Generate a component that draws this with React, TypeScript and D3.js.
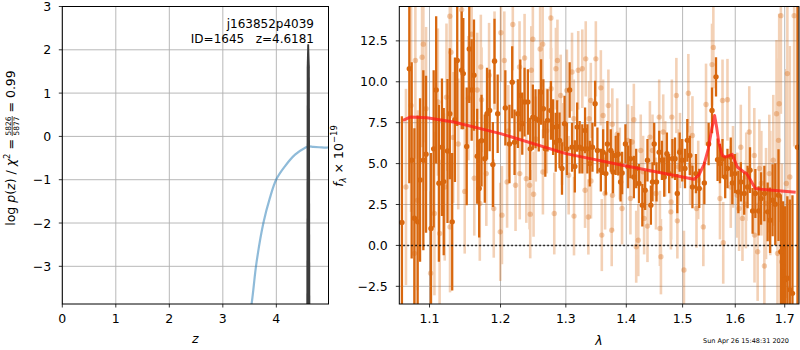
import React from 'react';
import * as d3 from 'd3';

// ---------- left panel: p(z) ----------
const pzZ = [3.40, 3.54, 3.63, 3.76, 3.88, 4.0, 4.16, 4.35, 4.54, 4.60, 4.69, 4.80, 4.94, 4.975];
const pzLog = [-5.0, -3.85, -2.91, -1.99, -1.42, -0.99, -0.69, -0.42, -0.26, -0.23, -0.24, -0.25, -0.26, -0.25];
const peakZ = [4.560, 4.568, 4.578, 4.612, 4.626, 4.636];
const peakLog = [-4.5, 1.6, 2.13, 2.13, 1.6, -4.5];
const xTicksL = [0, 1, 2, 3, 4];
const yTicksL = [-3, -2, -1, 0, 1, 2, 3];

// ---------- right panel: spectrum ----------
const xTicksR = [1.1, 1.2, 1.3, 1.4, 1.5, 1.6, 1.7];
const yTicksR = [-2.5, 0, 2.5, 5, 7.5, 10, 12.5];

const darkWave = [1.0634, 1.0731, 1.0762, 1.0798, 1.0841, 1.0873, 1.0917, 1.0953, 1.102, 1.1056, 1.109, 1.1127, 1.1169, 1.1193, 1.1245, 1.1277, 1.131, 1.1348, 1.138, 1.1442, 1.1465, 1.1513, 1.1549, 1.1583, 1.1616, 1.1662, 1.169, 1.1724, 1.1771, 1.1803, 1.1841, 1.1888, 1.1912, 1.1958, 1.2071, 1.2132, 1.2173, 1.2208, 1.2258, 1.2294, 1.2324, 1.2359, 1.2409, 1.2445, 1.2485, 1.2526, 1.2576, 1.2612, 1.2647, 1.2677, 1.2712, 1.2764, 1.2799, 1.284, 1.2864, 1.29, 1.2939, 1.298, 1.3017, 1.3061, 1.3099, 1.3144, 1.3182, 1.3222, 1.3265, 1.331, 1.3348, 1.3387, 1.3431, 1.3475, 1.3513, 1.357, 1.3608, 1.3653, 1.3679, 1.3736, 1.3774, 1.3819, 1.3862, 1.3902, 1.3929, 1.3985, 1.4029, 1.4071, 1.413, 1.4171, 1.4219, 1.4278, 1.4327, 1.4368, 1.4428, 1.4457, 1.4487, 1.4528, 1.4576, 1.4625, 1.4666, 1.4714, 1.4755, 1.4814, 1.4862, 1.4903, 1.4946, 1.4993, 1.5044, 1.5087, 1.5133, 1.5182, 1.5247, 1.5309, 1.5405, 1.5486, 1.5551, 1.5627, 1.5657, 1.5703, 1.5752, 1.5804, 1.5848, 1.5912, 1.5943, 1.5994, 1.6061, 1.611, 1.6176, 1.6243, 1.6292, 1.6344, 1.6399, 1.6466, 1.6514, 1.6581, 1.6648, 1.6697, 1.6749, 1.6804, 1.6871, 1.6919, 1.6966, 1.7006, 1.7055, 1.7106, 1.7162, 1.7268];
const darkFlux = [1.4, 10.8, 5.2, 1.66, 1.44, 4.0, 5.2, 5.57, 1.04, 5.9, 9.5, 3.8, 6.0, 3.9, 5.77, 8.05, 1.44, 7.68, 11.3, 10.7, 10.5, 6.05, 12.0, 9.5, 10.4, 5.45, 3.48, 6.4, 5.3, 8.05, 8.25, 4.94, 11.25, 8.05, 8.4, 6.2, 9.97, 6.3, 8.05, 9.16, 7.44, 8.76, 8.76, 5.9, 7.84, 7.74, 7.64, 9.37, 8.35, 5.9, 7.64, 8.25, 7.23, 6.3, 7.27, 6.42, 4.7, 7.44, 5.9, 9.5, 6.0, 4.83, 7.23, 6.0, 5.9, 7.03, 5.9, 5.0, 6.0, 8.66, 5.8, 4.6, 5.7, 4.39, 6.2, 5.8, 4.49, 5.5, 5.57, 3.88, 4.43, 6.2, 4.8, 5.3, 4.18, 4.7, 3.78, 2.46, 3.37, 5.2, 2.46, 3.88, 6.2, 3.88, 5.7, 5.2, 4.18, 5.6, 4.39, 5.3, 5.3, 3.17, 5.7, 5.2, 4.7, 6.42, 5.5, 3.57, 4.39, 3.48, 3.82, 6.2, 8.25, 10.3, 5.24, 5.0, 5.3, 4.18, 4.7, 5.4, 3.82, 4.39, 3.27, 3.88, 3.17, 3.57, 4.6, 2.11, 3.17, 2.11, 2.87, 3.17, 2.05, 1.54, 2.76, 2.52, 3.07, -0.39, -1.3, -2.1, -2.0, -2.7, -2.93, 6.0];
const darkErr = [6.5, 7.0, 6.0, 5.5, 6.5, 5.0, 5.5, 4.8, 4.6, 4.8, 4.5, 4.8, 4.2, 4.5, 4.4, 4.0, 4.2, 3.8, 4.0, 3.6, 3.4, 3.6, 3.3, 3.1, 3.4, 2.9, 3.0, 2.8, 2.7, 2.8, 2.5, 2.6, 2.6, 2.4, 2.3, 2.4, 2.2, 2.0, 2.1, 2.2, 1.9, 2.1, 2.0, 1.9, 2.0, 1.8, 1.9, 2.0, 1.8, 1.7, 1.9, 1.8, 1.7, 1.8, 1.6, 1.7, 1.6, 1.7, 1.6, 1.7, 1.5, 1.6, 1.5, 1.6, 1.5, 1.4, 1.5, 1.4, 1.5, 1.4, 1.4, 1.3, 1.4, 1.3, 1.4, 1.3, 1.3, 1.2, 1.3, 1.2, 1.3, 1.2, 1.3, 1.2, 1.3, 1.2, 1.2, 1.3, 1.2, 1.3, 1.2, 1.2, 1.3, 1.2, 1.3, 1.2, 1.2, 1.3, 1.2, 1.2, 1.3, 1.2, 1.2, 1.3, 1.2, 1.3, 1.2, 1.3, 1.2, 1.2, 1.3, 1.3, 1.4, 1.2, 1.3, 1.2, 1.2, 1.3, 1.2, 1.2, 1.3, 1.2, 1.3, 1.2, 1.3, 1.3, 1.4, 1.4, 1.5, 1.5, 1.6, 1.7, 1.8, 2.0, 2.2, 2.5, 2.8, 3.5, 4.0, 4.5, 5.0, 5.5, 6.0, 10.0];

const lightWave = [1.0687, 1.0754, 1.0798, 1.0811, 1.0841, 1.09, 1.0917, 1.0953, 1.1015, 1.1066, 1.1113, 1.1137, 1.1207, 1.1231, 1.1277, 1.128, 1.1293, 1.1324, 1.1394, 1.1442, 1.1485, 1.1536, 1.1583, 1.162, 1.1662, 1.1699, 1.1714, 1.1724, 1.1793, 1.1833, 1.1901, 1.1912, 1.1996, 1.2006, 1.2021, 1.2056, 1.2097, 1.2115, 1.2182, 1.2223, 1.2283, 1.2286, 1.2359, 1.2385, 1.2435, 1.2445, 1.2461, 1.2485, 1.2496, 1.253, 1.2597, 1.2636, 1.264, 1.27, 1.2764, 1.2768, 1.2817, 1.2843, 1.2867, 1.2918, 1.294, 1.3017, 1.3045, 1.3099, 1.3128, 1.3131, 1.3199, 1.3265, 1.331, 1.3321, 1.3364, 1.3376, 1.3404, 1.3407, 1.3487, 1.357, 1.3586, 1.3608, 1.3641, 1.3696, 1.3752, 1.3762, 1.3765, 1.3845, 1.3889, 1.3927, 1.4029, 1.4071, 1.41, 1.413, 1.4171, 1.4207, 1.425, 1.4291, 1.4309, 1.4368, 1.4411, 1.4457, 1.4518, 1.4576, 1.4589, 1.4607, 1.4648, 1.4684, 1.4786, 1.479, 1.4804, 1.4886, 1.4904, 1.4922, 1.4952, 1.5025, 1.5106, 1.5139, 1.5182, 1.5258, 1.529, 1.5386, 1.5437, 1.5551, 1.5576, 1.5703, 1.5752, 1.5766, 1.5848, 1.5912, 1.5956, 1.604, 1.6075, 1.6109, 1.6142, 1.621, 1.6217, 1.6277, 1.6378, 1.6382, 1.6445, 1.648, 1.652, 1.6581, 1.6615, 1.6682, 1.6702, 1.6763, 1.683, 1.685, 1.6871, 1.6885, 1.692, 1.694, 1.7034, 1.7055, 1.7106, 1.7198];
const lightFlux = [3.57, 8.55, -0.49, 11.3, 2.76, 11.5, 12.3, 8.35, -1.7, 1.95, 8.76, 0.73, 3.57, 9.06, 14.0, 1.13, 11.8, 6.6, 6.2, 14.4, 3.3, 9.0, 12.9, 4.1, 9.5, 2.56, 10.9, 8.9, 4.39, 10.4, 2.25, 11.3, 0.83, 13.0, 1.85, 11.3, 3.88, 7.0, 13.5, 3.68, 10.9, 4.39, 11.45, 4.08, 3.68, 1.91, 10.7, 12.6, 3.13, 6.5, 12.0, 12.3, 4.49, 7.0, 13.9, 9.57, 1.95, 10.8, 11.3, 9.16, 6.2, 9.47, 4.29, 10.6, 7.74, 1.79, 10.7, 10.8, 3.37, 11.4, 1.74, 7.74, 8.86, 3.94, 11.4, 9.63, 0.63, 7.94, 3.17, 8.55, 0.93, 7.4, 3.07, 6.79, 5.0, 2.26, 6.42, 2.87, 6.32, 7.68, -0.08, 0.32, 5.8, 4.5, 1.65, 1.18, 6.62, 5.8, 3.17, 7.84, 1.04, -0.69, 6.93, 5.3, 2.05, 2.66, 7.84, 9.16, 1.5, 4.8, 5.8, -1.5, 9.3, 4.9, 6.72, 2.26, 4.0, 1.13, 8.61, 11.05, 12.1, 2.87, 8.86, 0.16, 8.9, 3.57, 4.8, 3.07, 2.26, 6.0, 1.65, 2.52, 4.2, 6.93, 5.5, 0.63, -0.39, 4.7, 3.8, -1.26, 2.56, 4.39, 3.2, 5.2, 8.05, -0.49, 6.42, 8.66, 14.04, -1.0, 3.78, 10.5, 4.18, 14.04];
const lightErr = [6.0, 6.5, 5.5, 6.0, 5.5, 5.5, 6.0, 5.0, 5.0, 5.0, 4.5, 4.5, 4.5, 4.5, 4.5, 4.0, 4.0, 4.0, 4.0, 4.0, 3.8, 3.8, 3.5, 3.5, 3.5, 3.5, 3.2, 3.2, 3.2, 3.2, 3.0, 3.0, 3.0, 3.0, 3.0, 3.0, 2.8, 2.8, 2.8, 2.8, 2.8, 2.8, 2.7, 2.7, 2.7, 2.7, 2.7, 2.7, 2.6, 2.6, 2.6, 2.6, 2.6, 2.6, 2.5, 2.5, 2.5, 2.5, 2.5, 2.5, 2.5, 2.5, 2.4, 2.4, 2.4, 2.4, 2.4, 2.4, 2.3, 2.3, 2.3, 2.3, 2.3, 2.3, 2.3, 2.3, 2.2, 2.2, 2.2, 2.2, 2.2, 2.2, 2.2, 2.2, 2.2, 2.2, 2.2, 2.2, 2.2, 2.2, 2.2, 2.2, 2.2, 2.2, 2.2, 2.2, 2.2, 2.2, 2.2, 2.3, 2.3, 2.3, 2.3, 2.3, 2.3, 2.3, 2.3, 2.3, 2.3, 2.3, 2.3, 2.4, 2.4, 2.4, 2.4, 2.4, 2.4, 2.4, 2.5, 2.5, 2.5, 2.5, 2.5, 2.5, 2.5, 2.5, 2.5, 2.6, 2.6, 2.6, 2.6, 2.7, 2.7, 2.8, 2.9, 2.9, 3.0, 3.0, 3.2, 3.3, 3.4, 3.6, 3.8, 4.0, 4.5, 4.5, 5.0, 5.5, 6.0, 6.0, 7.0, 7.0, 8.0, 8.0];

const modelWave = [1.0647, 1.0742, 1.0965, 1.133, 1.2, 1.3, 1.4, 1.5, 1.521, 1.53, 1.54, 1.548, 1.555, 1.56, 1.564, 1.568, 1.5746, 1.581, 1.594, 1.604, 1.617, 1.6225, 1.64, 1.657, 1.723];
const modelFlux = [7.64, 7.84, 7.80, 7.54, 6.83, 5.61, 4.85, 4.18, 4.04, 4.29, 4.95, 5.9, 7.2, 7.94, 7.2, 6.3, 5.5, 5.40, 5.57, 4.79, 4.49, 4.39, 3.48, 3.41, 3.25];

const FONT = "'DejaVu Sans', sans-serif";
const ORANGE = '#d8670e';
const GRID = '#b0b0b0';
const minus = (s: string) => s.replace('-', '\u2212');

export default function App() {
  const L = { x0: 62.3, x1: 328.5, y0: 6.5, y1: 304 };
  const R = { x0: 399.3, x1: 799, y0: 6.5, y1: 304 };
  const xL = d3.scaleLinear().domain([0, 4.975]).range([L.x0, L.x1]);
  const yL = d3.scaleLinear().domain([-3.87, 3]).range([L.y1, L.y0]);
  const xR = d3.scaleLog().domain([1.06, 1.73]).range([R.x0, R.x1]);
  const yR = d3.scaleLinear().domain([-3.58, 14.6]).range([R.y1, R.y0]);

  const pzLine = d3.line<number>().x((_, i) => xL(pzZ[i])).y((d) => yL(d)).curve(d3.curveCatmullRom)(pzLog) || '';
  const peakPath = d3.line<number>().x((_, i) => xL(peakZ[i])).y((d) => yL(d))(peakLog) + 'Z';
  const modelLine = d3.line<number>().x((_, i) => xR(modelWave[i])).y((d) => yR(d))(modelFlux) || '';
  const TF = 12.5;

  return (
    <svg width={800} height={350} style={{ position: 'absolute', left: 0, top: 0, background: '#fff' }} fontFamily={FONT}>
      <defs>
        <clipPath id="clipL"><rect x={L.x0} y={L.y0} width={L.x1 - L.x0} height={L.y1 - L.y0} /></clipPath>
        <clipPath id="clipR"><rect x={R.x0} y={R.y0} width={R.x1 - R.x0} height={R.y1 - R.y0} /></clipPath>
      </defs>
      <rect x={0} y={0} width={800} height={350} fill="#fff" />

      {/* ---------- LEFT PANEL ---------- */}
      <g>
        {xTicksL.map((t) => <line key={'gxl' + t} x1={xL(t)} x2={xL(t)} y1={L.y0} y2={L.y1} stroke={GRID} strokeWidth={0.9} />)}
        {yTicksL.map((t) => <line key={'gyl' + t} x1={L.x0} x2={L.x1} y1={yL(t)} y2={yL(t)} stroke={GRID} strokeWidth={0.9} />)}
        <g clipPath="url(#clipL)">
          <path d={pzLine} fill="none" stroke="#1f77b4" strokeOpacity={0.5} strokeWidth={2.2} />
          <path d={peakPath} fill="#3c3c3c" />
        </g>
        <rect x={L.x0} y={L.y0} width={L.x1 - L.x0} height={L.y1 - L.y0} fill="none" stroke="#000" strokeWidth={1} />
        {xTicksL.map((t) => (
          <g key={'txl' + t}>
            <line x1={xL(t)} x2={xL(t)} y1={L.y1} y2={L.y1 + 3.5} stroke="#000" strokeWidth={0.8} />
            <text x={xL(t)} y={L.y1 + 18.5} fontSize={TF} textAnchor="middle">{t}</text>
          </g>
        ))}
        {yTicksL.map((t) => (
          <g key={'tyl' + t}>
            <line x1={L.x0 - 3.5} x2={L.x0} y1={yL(t)} y2={yL(t)} stroke="#000" strokeWidth={0.8} />
            <text x={L.x0 - 11} y={yL(t) + 4.5} fontSize={TF} textAnchor="end">{minus(String(t))}</text>
          </g>
        ))}
        <text x={314} y={27.5} fontSize={12} textAnchor="end">j163852p4039</text>
        <text x={314} y={43} fontSize={12} textAnchor="end" style={{ whiteSpace: 'pre' }}>{'ID=1645   z=4.6181'}</text>
        <text x={195.4} y={343} fontSize={12.5} textAnchor="middle" fontStyle="italic">z</text>
        <g transform="translate(15.3,156) rotate(-90)">
          <text x={17} y={0} fontSize={12.5} textAnchor="end">
            <tspan>log </tspan>
            <tspan fontStyle="italic">p</tspan>
            <tspan>(</tspan>
            <tspan fontStyle="italic">z</tspan>
            <tspan>) / </tspan>
            <tspan fontStyle="italic">χ</tspan>
            <tspan fontSize={8.5} dy={-5}>2</tspan>
            <tspan dy={5}> =</tspan>
          </text>
          <text x={30} y={-4.3} fontSize={7.5} textAnchor="middle">5826</text>
          <line x1={20} x2={40} y1={-3.1} y2={-3.1} stroke="#000" strokeWidth={0.7} />
          <text x={30} y={3.6} fontSize={7.5} textAnchor="middle">5877</text>
          <text x={43.5} y={0} fontSize={12.5} textAnchor="start">= 0.99</text>
        </g>
      </g>

      {/* ---------- RIGHT PANEL ---------- */}
      <g>
        {xTicksR.map((t) => <line key={'gxr' + t} x1={xR(t)} x2={xR(t)} y1={R.y0} y2={R.y1} stroke={GRID} strokeWidth={0.9} />)}
        {yTicksR.map((t) => <line key={'gyr' + t} x1={R.x0} x2={R.x1} y1={yR(t)} y2={yR(t)} stroke={GRID} strokeWidth={0.9} />)}
        <g clipPath="url(#clipR)">
          <g opacity={0.3}>
            {lightWave.map((w, i) => (
              <line key={'lb' + i} x1={xR(w)} x2={xR(w)} y1={yR(lightFlux[i] - lightErr[i])} y2={yR(lightFlux[i] + lightErr[i])} stroke={ORANGE} strokeWidth={2.6} />
            ))}
          </g>
          {lightWave.map((w, i) => (
            <circle key={'lp' + i} cx={xR(w)} cy={yR(lightFlux[i])} r={2.7} fill={ORANGE} fillOpacity={0.33} />
          ))}
          {darkWave.map((w, i) => (
            <line key={'db' + i} x1={xR(w)} x2={xR(w)} y1={yR(darkFlux[i] - darkErr[i])} y2={yR(darkFlux[i] + darkErr[i])} stroke={ORANGE} strokeWidth={2.3} />
          ))}
          {darkWave.map((w, i) => (
            <circle key={'dp' + i} cx={xR(w)} cy={yR(darkFlux[i])} r={2.7} fill={ORANGE} />
          ))}
          <line x1={R.x0} x2={R.x1} y1={yR(0)} y2={yR(0)} stroke="#000" strokeWidth={1.5} strokeDasharray="1.5,2.5" />
          <path d={modelLine} fill="none" stroke="#ff1a1a" strokeOpacity={0.75} strokeWidth={3} strokeLinejoin="round" />
        </g>
        <rect x={R.x0} y={R.y0} width={R.x1 - R.x0} height={R.y1 - R.y0} fill="none" stroke="#000" strokeWidth={1} />
        {xTicksR.map((t) => (
          <g key={'txr' + t}>
            <line x1={xR(t)} x2={xR(t)} y1={R.y1} y2={R.y1 + 3.5} stroke="#000" strokeWidth={0.8} />
            <text x={xR(t)} y={R.y1 + 18.5} fontSize={TF} textAnchor="middle">{t.toFixed(1)}</text>
          </g>
        ))}
        {yTicksR.map((t) => (
          <g key={'tyr' + t}>
            <line x1={R.x0 - 3.5} x2={R.x0} y1={yR(t)} y2={yR(t)} stroke="#000" strokeWidth={0.8} />
            <text x={R.x0 - 11.5} y={yR(t) + 4.5} fontSize={TF} textAnchor="end">{minus(t.toFixed(1))}</text>
          </g>
        ))}
        <text x={599} y={344.5} fontSize={12.5} textAnchor="middle" fontStyle="italic">λ</text>
        <g transform="translate(342.7,156) rotate(-90)">
          <text x={0} y={0} fontSize={12.5} textAnchor="middle">
            <tspan fontStyle="italic">f</tspan>
            <tspan fontStyle="italic" fontSize={8.5} dy={3}>λ</tspan>
            <tspan dy={-3}> × 10</tspan>
            <tspan fontSize={8.5} dy={-5.5}>−19</tspan>
          </text>
        </g>
        <text x={789} y={342.5} fontSize={6.5} textAnchor="end">Sun Apr 26 15:48:31 2020</text>
      </g>
    </svg>
  );
}
